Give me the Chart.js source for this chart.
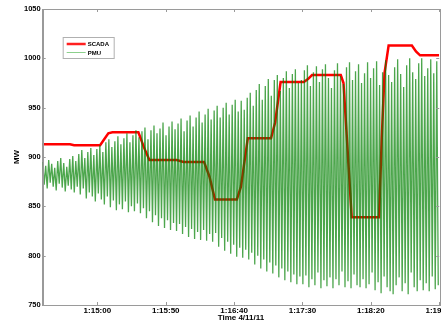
<!DOCTYPE html>
<html>
<head>
<meta charset="utf-8">
<script src="https://cdn.jsdelivr.net/npm/chart.js@4.4.1/dist/chart.umd.min.js"></script>
<style>
  html, body { margin: 0; padding: 0; background: #fff; overflow: hidden; }
  #wrap { position: relative; width: 455px; height: 322px; }
</style>
</head>
<body>
<div id="wrap"><canvas id="chart"></canvas></div>
<script>
/* SCADA vs PMU — MW, Time 4/11/11 (x en secondes depuis 0:00:00) */

const xTicks = [4500, 4550, 4600, 4650, 4700, 4750];
const yTicks = [750, 800, 850, 900, 950, 1000, 1050];

// SCADA (rouge)
const scadaTime = [4460, 4480, 4483, 4502, 4505, 4508, 4511, 4530, 4534, 4538, 4558, 4563, 4578, 4582, 4586,
  4602, 4605, 4610, 4627, 4630, 4634, 4651, 4654, 4657, 4678, 4680, 4686, 4706, 4708, 4710, 4713,
  4730, 4733, 4736, 4750];
const scadaMW = [913, 913, 912, 912, 918, 924, 925, 925, 910, 897, 897, 895, 895, 880, 857,
  857, 870, 919, 919, 935, 976, 976, 979, 983, 983, 975, 839, 839, 920, 985, 1013,
  1013, 1007, 1003, 1003];

// PMU (vert) : un pic et un creux par oscillation
const pmuStart = 4460;
const pmuHalfPeriod = 1.1;
const pmuPeaks = [
  895, 891, 897, 893, 889, 896, 899, 894, 890, 898, 901, 896,
  903, 907, 899, 905, 909, 902, 908, 912, 905, 915,
  918, 910, 916, 921, 913, 919, 924, 915, 922, 927,
  920, 926, 930, 918, 927, 932, 924, 929, 935, 922, 931, 936,
  928, 934, 939, 926, 937, 942, 931, 940, 946, 935, 943, 949,
  938, 947, 952, 940, 950, 955, 943, 953, 958, 946, 957,
  948, 960, 965, 952, 968, 974, 958, 972, 979,
  962, 978, 983, 967, 980, 987, 970, 984, 989, 975,
  978, 988, 993, 972, 986, 992, 976, 989, 994, 980,
  970, 988, 995, 982, 974, 991, 996, 978, 987, 994,
  975, 985, 996, 980, 990, 997, 973, 986, 998, 983,
  976, 991, 999, 984, 971, 993, 1000, 986, 979, 995,
  1000, 982, 990, 999, 985, 997
];
const pmuTroughs = [
  872, 868, 874, 870, 866, 873, 869, 865, 871, 867, 864, 870,
  862, 868, 858, 864, 860, 855, 863, 857, 852, 860,
  849, 856, 846, 852, 847, 855, 844, 850, 845, 853,
  843, 848, 838, 845, 834, 841, 830, 838, 828, 836, 826, 833,
  825, 832, 822, 829, 819, 827, 817, 824, 816, 826, 815, 822,
  814, 823, 809, 818, 805, 814, 802, 811, 799, 808, 798,
  806, 796, 803, 791, 800, 787, 796, 784, 793,
  782, 790, 778, 787, 775, 784, 773, 781, 771, 779,
  771, 780, 768, 776, 770, 783, 767, 775, 769, 778,
  767, 776, 770, 784, 768, 774, 767, 781, 770, 768,
  776, 767, 771, 783, 765, 773, 762, 779, 768, 764,
  761, 770, 778, 764, 772, 761, 783, 768, 764, 775,
  765, 772, 764, 779, 766, 770
];

const scadaData = scadaTime.map((t, i) => ({ x: t, y: scadaMW[i] }));
const pmuData = [];
pmuPeaks.forEach((p, k) => {
  pmuData.push({ x: pmuStart + 2 * k * pmuHalfPeriod, y: p });
  pmuData.push({ x: pmuStart + (2 * k + 1) * pmuHalfPeriod, y: pmuTroughs[k] });
});

function fmtTime(v) {
  const h = Math.floor(v / 3600), m = Math.floor((v % 3600) / 60), s = Math.round(v % 60);
  return h + ':' + String(m).padStart(2, '0') + ':' + String(s).padStart(2, '0');
}

const FONT = 'Liberation Sans, Arial, sans-serif';
const AXIS = '#9a9a9a';

// cadre + graduations vers l'intérieur (style MATLAB)
const framePlugin = {
  id: 'frame',
  afterDatasetsDraw(chart) {
    const { ctx, chartArea: a, scales: { x, y } } = chart;
    ctx.save();
    ctx.strokeStyle = AXIS;
    ctx.lineWidth = 1;
    ctx.strokeRect(Math.round(a.left) + 0.5, Math.round(a.top) + 0.5, Math.round(a.right - a.left), Math.round(a.bottom - a.top));
    ctx.beginPath();
    xTicks.forEach(v => {
      const px = Math.round(x.getPixelForValue(v)) + 0.5;
      ctx.moveTo(px, a.top); ctx.lineTo(px, a.top + 3);
      ctx.moveTo(px, a.bottom); ctx.lineTo(px, a.bottom - 3);
    });
    yTicks.forEach(v => {
      const py = Math.round(y.getPixelForValue(v)) + 0.5;
      ctx.moveTo(a.left, py); ctx.lineTo(a.left + 3, py);
      ctx.moveTo(a.right, py); ctx.lineTo(a.right - 3, py);
    });
    ctx.stroke();
    ctx.restore();
  }
};

// légende encadrée dans le graphe
const boxLegend = {
  id: 'boxLegend',
  afterDraw(chart) {
    const { ctx, chartArea: a } = chart;
    const bx = a.left + 20, by = a.top + 28, bw = 51, bh = 21;
    ctx.save();
    ctx.fillStyle = '#fff';
    ctx.fillRect(bx, by, bw, bh);
    ctx.strokeStyle = '#b0b0b0';
    ctx.lineWidth = 1;
    ctx.strokeRect(bx + 0.5, by + 0.5, bw, bh);
    ctx.font = 'bold 6px ' + FONT;
    ctx.textBaseline = 'middle';
    const items = [chart.data.datasets[0], chart.data.datasets[1]];
    items.forEach((ds, i) => {
      const ly = by + 7 + i * 8.5;
      ctx.strokeStyle = ds.legendColor;
      ctx.lineWidth = ds.borderWidth > 2 ? 2.5 : 1;
      ctx.beginPath();
      ctx.moveTo(bx + 4, ly); ctx.lineTo(bx + 23, ly);
      ctx.stroke();
      ctx.fillStyle = '#000';
      ctx.fillText(ds.label, bx + 25, ly + 0.5);
    });
    ctx.restore();
  }
};

new Chart(document.getElementById('chart'), {
  type: 'line',
  data: {
    datasets: [
      { label: 'SCADA', data: scadaData, borderColor: '#ff0000', legendColor: '#ff2020', borderWidth: 2.5,
        pointRadius: 0, tension: 0, order: 1 },
      { label: 'PMU', data: pmuData, borderColor: 'rgba(0,128,0,0.7)', legendColor: 'rgba(0,150,0,0.45)', borderWidth: 1.3,
        pointRadius: 0, tension: 0, order: 0 }
    ]
  },
  options: {
    responsive: true,
    maintainAspectRatio: false,
    animation: false,
    layout: { padding: { left: 13, top: 9, right: 0, bottom: 0 } },
    plugins: { legend: { display: false }, tooltip: { enabled: false } },
    scales: {
      x: {
        type: 'linear', min: 4460, max: 4750,
        afterBuildTicks: s => { s.ticks = xTicks.map(v => ({ value: v })); },
        grid: { display: false, drawTicks: false },
        border: { display: true, color: AXIS },
        ticks: { color: '#000', font: { family: FONT, size: 8, weight: 'bold', lineHeight: 1 }, padding: 2,
          maxRotation: 0, autoSkip: false, callback: v => fmtTime(v) },
        title: { display: true, text: 'Time 4/11/11', color: '#000',
          font: { family: FONT, size: 8, weight: 'bold', lineHeight: 1 }, padding: { top: -3, bottom: 0 } }
      },
      y: {
        min: 750, max: 1050,
        afterBuildTicks: s => { s.ticks = yTicks.map(v => ({ value: v })); },
        grid: { display: false, drawTicks: false },
        border: { display: true, color: AXIS },
        ticks: { color: '#000', font: { family: FONT, size: 7.5, weight: 'bold' }, padding: 2,
          callback: v => String(v) },
        title: { display: true, text: 'MW', color: '#000',
          font: { family: FONT, size: 8, weight: 'bold', lineHeight: 1 }, padding: { top: 0, bottom: 1 } }
      }
    }
  },
  plugins: [framePlugin, boxLegend]
});
</script>
</body>
</html>
